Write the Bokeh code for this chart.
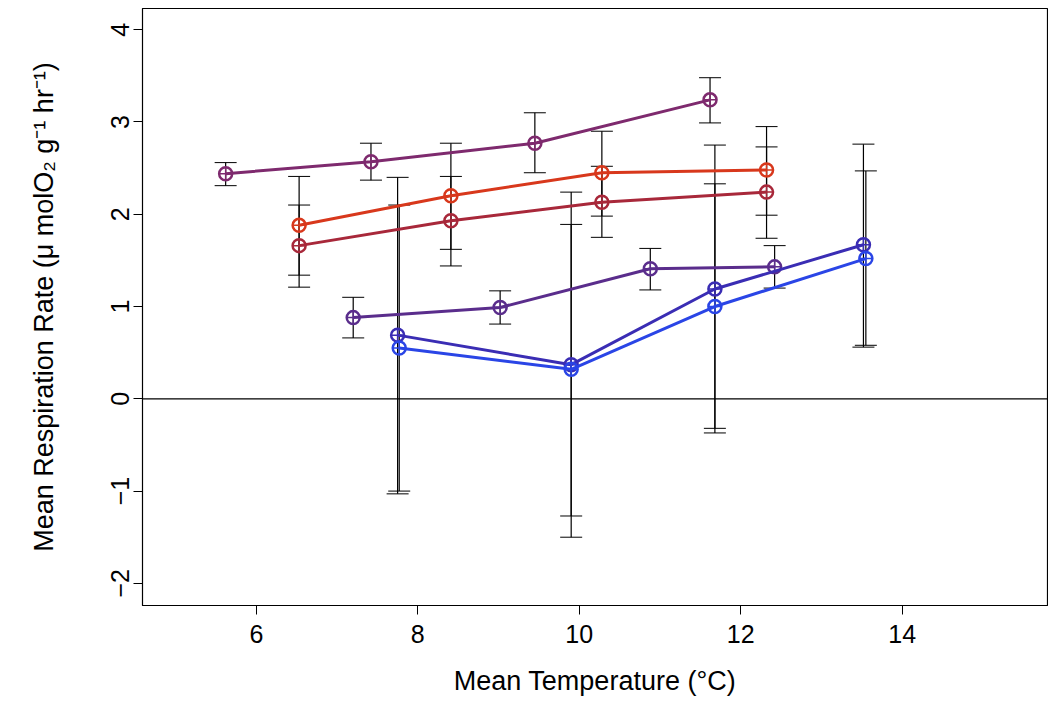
from bokeh.plotting import figure
from bokeh.models import Span, Whisker, ColumnDataSource, Range1d, FixedTicker
from bokeh.embed import file_html
from bokeh.resources import INLINE

series_names = ["purple_top", "orange", "darkred", "purple_mid", "darkblue", "blue"]
colors = ["#7E2A6E", "#D8381C", "#A8283A", "#5A2D8C", "#3A2DB4", "#2A45E6"]
xs = [
    [5.62, 7.42, 9.45, 11.62],
    [6.53, 8.41, 10.28, 12.32],
    [6.53, 8.41, 10.28, 12.32],
    [7.20, 9.02, 10.88, 12.42],
    [7.75, 9.90, 11.68, 13.52],
    [7.77, 9.90, 11.68, 13.55],
]
ys = [
    [2.44, 2.57, 2.77, 3.24],
    [1.88, 2.20, 2.45, 2.48],
    [1.66, 1.93, 2.13, 2.24],
    [0.88, 0.99, 1.41, 1.43],
    [0.69, 0.37, 1.19, 1.67],
    [0.55, 0.32, 1.00, 1.52],
]
lows = [
    [2.31, 2.37, 2.45, 2.99],
    [1.34, 1.62, 1.98, 1.99],
    [1.21, 1.44, 1.75, 1.74],
    [0.66, 0.81, 1.18, 1.20],
    [-1.03, -1.50, -0.37, 0.56],
    [-1.00, -1.27, -0.32, 0.58],
]
highs = [
    [2.56, 2.77, 3.10, 3.48],
    [2.41, 2.77, 2.90, 2.95],
    [2.10, 2.41, 2.52, 2.73],
    [1.10, 1.17, 1.63, 1.66],
    [2.40, 2.24, 2.75, 2.76],
    [2.10, 1.89, 2.33, 2.47],
]

p = figure(width=1048, height=712, output_backend="svg", toolbar_location=None,
           x_range=Range1d(4.59, 15.8), y_range=Range1d(-2.24, 4.23),
           min_border_left=142, min_border_right=1, min_border_top=8, min_border_bottom=107)
p.grid.visible = False
p.outline_line_color = "black"
p.outline_line_width = 1.2
p.outline_line_alpha = 1
font = "Liberation Sans"
for ax in (p.xaxis, p.yaxis):
    ax.axis_label_text_font = font
    ax.axis_label_text_font_style = "normal"
    ax.axis_label_text_font_size = "27px"
    ax.axis_label_text_color = "black"
    ax.major_label_text_font = font
    ax.major_label_text_font_size = "25px"
    ax.major_label_text_color = "black"
    ax.minor_tick_line_color = None
    ax.major_tick_in = 0
    ax.major_tick_out = 9
    ax.major_tick_line_color = "black"
    ax.axis_line_color = "black"
p.xaxis.ticker = FixedTicker(ticks=[6, 8, 10, 12, 14])
p.yaxis.ticker = FixedTicker(ticks=[-2, -1, 0, 1, 2, 3, 4])
p.yaxis.major_label_orientation = "vertical"
p.yaxis.major_label_standoff = 4
p.yaxis.axis_label_standoff = 50
p.xaxis.major_label_standoff = 10
p.xaxis.axis_label_standoff = 20
p.xaxis.axis_label = "Mean Temperature (°C)"
p.yaxis.axis_label = "Mean Respiration Rate (μ molO₂ g⁻¹ hr⁻¹)"

p.add_layout(Span(location=0, dimension="width", line_color="black", line_width=1.2))

for i in range(len(xs)):
    src = ColumnDataSource(dict(x=xs[i], y=ys[i], lo=lows[i], hi=highs[i]))
    w = Whisker(source=src, base="x", lower="lo", upper="hi", line_color="black", line_width=1.2)
    w.upper_head.size = 22
    w.lower_head.size = 22
    w.upper_head.line_color = "black"
    w.lower_head.line_color = "black"
    p.add_layout(w)
for i in range(len(xs)):
    src = ColumnDataSource(dict(x=xs[i], y=ys[i]))
    p.line("x", "y", source=src, line_color=colors[i], line_width=3)
    p.scatter("x", "y", source=src, size=13, fill_color=None, line_color=colors[i], line_width=2.5)
    p.scatter("x", "y", source=src, marker="cross", size=13, line_color=colors[i], line_width=1.5)

open("out.html", "w").write(file_html(p, INLINE))
